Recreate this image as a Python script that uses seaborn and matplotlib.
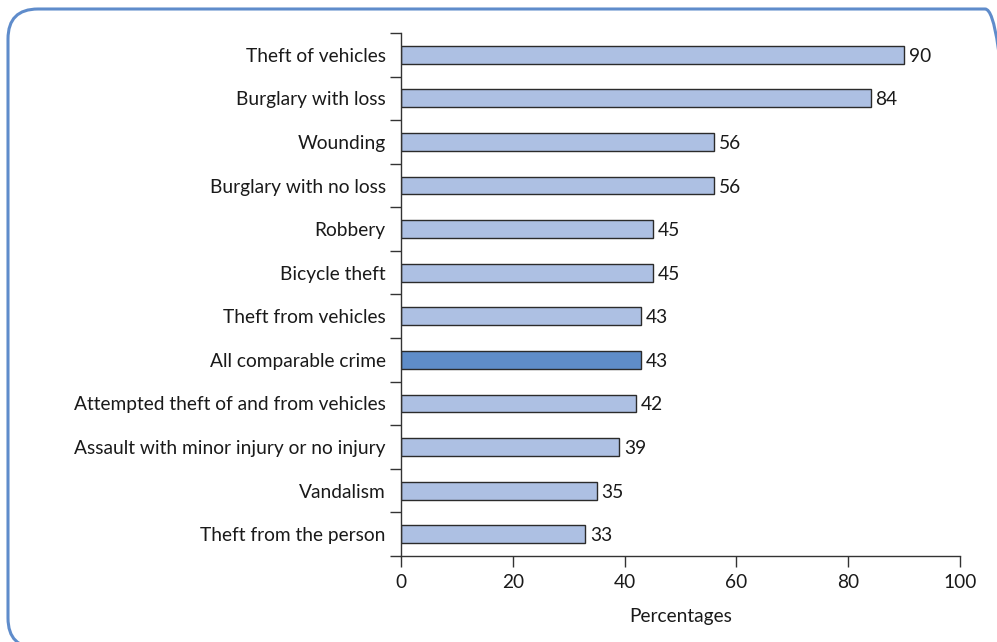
import numpy as np
import pandas as pd
import matplotlib
matplotlib.use("Agg")
import matplotlib.pyplot as plt
from matplotlib.patches import FancyBboxPatch
import seaborn as sns

categories = [
    "Theft of vehicles",
    "Burglary with loss",
    "Wounding",
    "Burglary with no loss",
    "Robbery",
    "Bicycle theft",
    "Theft from vehicles",
    "All comparable crime",
    "Attempted theft of and from vehicles",
    "Assault with minor injury or no injury",
    "Vandalism",
    "Theft from the person",
]
percentages = [90, 84, 56, 56, 45, 45, 43, 43, 42, 39, 35, 33]
highlight = "All comparable crime"
x_ticks = [0, 20, 40, 60, 80, 100]
x_label = "Percentages"

sns.set_style("white")
plt.rcParams["font.family"] = ["Lato", "DejaVu Sans"]
FS = 13.8
TXT = "#1a1a1a"

df = pd.DataFrame({"category": categories, "value": percentages})
df["group"] = np.where(df["category"] == highlight, "total", "crime")

fig = plt.figure(figsize=(9.97, 6.42), dpi=100)
W, H = 997, 642
ax = fig.add_axes([401 / W, 1 - 556 / H, (960 - 401) / W, (556 - 33) / H])

sns.barplot(
    data=df, x="value", y="category", hue="group",
    palette={"crime": "#adc0e3", "total": "#5f8dc9"}, saturation=1,
    order=categories, orient="h", width=0.41, dodge=False,
    edgecolor="#2b2b2b", linewidth=1.0, legend=False, ax=ax,
)

for container in ax.containers:
    for t in ax.bar_label(container, fmt="%d", padding=3.5, fontsize=FS, color=TXT):
        t.set_va("center_baseline")

ax.set_xlim(0, 100)
ax.set_ylim(len(categories) - 0.5, -0.5)
ax.set_xticks(x_ticks)
ax.set_xticklabels([str(t) for t in x_ticks], fontsize=FS, color=TXT)
ax.set_yticks(range(len(categories)))
ax.set_yticklabels(categories, fontsize=FS, color=TXT)
ax.set_yticks(np.arange(-0.5, len(categories)), minor=True)
ax.tick_params(axis="y", which="major", length=0, pad=11)
ax.tick_params(axis="y", which="minor", length=8, width=1, color="#333333", direction="out", left=True)
ax.tick_params(axis="x", length=8, width=1, color="#333333", direction="out", bottom=True, pad=5)
ax.set_xlabel(x_label, fontsize=FS, color=TXT, labelpad=12)
ax.set_ylabel("")

for side in ("top", "right"):
    ax.spines[side].set_visible(False)
for side in ("left", "bottom"):
    ax.spines[side].set_color("#333333")
    ax.spines[side].set_linewidth(1.0)

# rounded blue frame around the panel
frame = FancyBboxPatch(
    (8 / W, 1 - 648 / H), (1015 - 8) / W, (648 - 9) / H,
    boxstyle="round,pad=0,rounding_size=0.03",
    transform=fig.transFigure, facecolor="none",
    edgecolor="#5f8ccb", linewidth=2.2, clip_on=False,
    mutation_aspect=W / H,
)
fig.patches.append(frame)

fig.savefig("out.png", dpi=100)
